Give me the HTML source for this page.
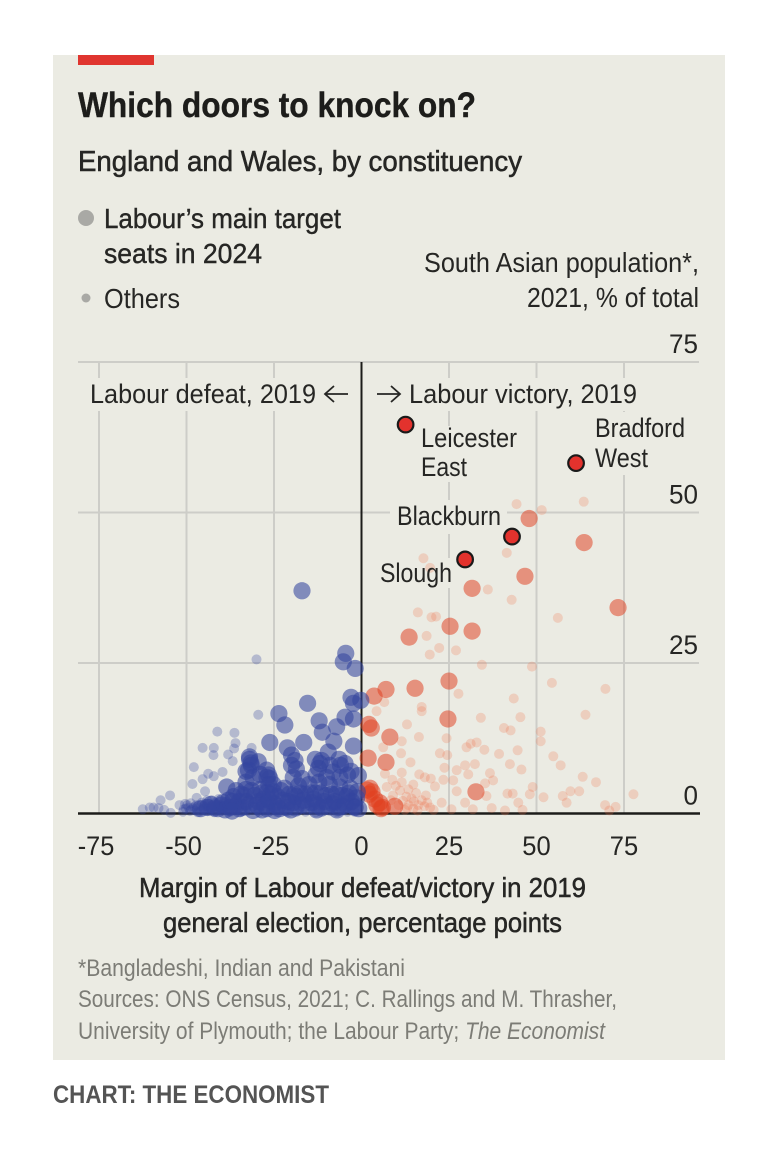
<!DOCTYPE html>
<html lang="en">
<head>
<meta charset="utf-8">
<title>Which doors to knock on?</title>
<style>
html,body{margin:0;padding:0;background:#fff;}
svg{display:block;filter:blur(0.35px);}
text{font-family:"Liberation Sans",sans-serif;fill:#262624;}
</style>
</head>
<body>
<svg id="chart" xmlns="http://www.w3.org/2000/svg" width="782" height="1154" viewBox="0 0 782 1154">
  <rect x="53" y="55" width="672" height="1005" fill="#ebebe3"/>
  <rect x="78" y="55" width="76" height="10" fill="#e0352f"/>
  <text x="78" y="117" font-size="35" font-weight="bold" textLength="398" lengthAdjust="spacingAndGlyphs" stroke="#1d1d1b" stroke-width="0.4" style="fill:#1d1d1b">Which doors to knock on?</text>
  <text x="78" y="171" font-size="29" textLength="444" lengthAdjust="spacingAndGlyphs" stroke="#262624" stroke-width="0.55">England and Wales, by constituency</text>

  <circle cx="86" cy="218" r="8" fill="#a9a9a5"/>
  <text x="104" y="228" font-size="28" textLength="237" lengthAdjust="spacingAndGlyphs" stroke="#262624" stroke-width="0.4">Labour’s main target</text>
  <text x="104" y="263" font-size="28" textLength="158" lengthAdjust="spacingAndGlyphs" stroke="#262624" stroke-width="0.4">seats in 2024</text>
  <circle cx="86" cy="298" r="4.5" fill="#a9a9a5"/>
  <text x="104" y="308" font-size="28" textLength="76" lengthAdjust="spacingAndGlyphs">Others</text>

  <text x="424" y="272" font-size="28" textLength="275" lengthAdjust="spacingAndGlyphs">South Asian population*,</text>
  <text x="527" y="307" font-size="28" textLength="172" lengthAdjust="spacingAndGlyphs">2021, % of total</text>

  <g id="grid"></g>
  <g id="masks">
    <rect x="80" y="378" width="570" height="33" fill="#ebebe3"/>
    <rect x="418" y="426" width="102" height="56" fill="#ebebe3"/>
    <rect x="592" y="412" width="96" height="63" fill="#ebebe3"/>
    <rect x="390" y="500" width="117" height="34" fill="#ebebe3"/>
    <rect x="377" y="558" width="78" height="30" fill="#ebebe3"/>
  </g>
  <g id="axes"></g>
  <g id="redOthersLayer"></g>
  <g id="redTargetsLayer"></g>
  <g id="blueOthersLayer"></g>
  <g id="blueTargetsLayer"></g>
  <g id="highlightLayer"></g>
  <g id="tickLayer"></g>

  <text x="90" y="403" font-size="27" textLength="226" lengthAdjust="spacingAndGlyphs">Labour defeat, 2019</text>
  <path d="M348 394H325M334 386L325 394L334 402" fill="none" stroke="#262624" stroke-width="1.8"/>
  <path d="M377 394H400M391 386L400 394L391 402" fill="none" stroke="#262624" stroke-width="1.8"/>
  <text x="409" y="403" font-size="27" textLength="228" lengthAdjust="spacingAndGlyphs">Labour victory, 2019</text>
  <text x="421" y="447" font-size="27" textLength="96" lengthAdjust="spacingAndGlyphs">Leicester</text>
  <text x="421" y="476" font-size="27" textLength="46" lengthAdjust="spacingAndGlyphs">East</text>
  <text x="595" y="437" font-size="27" textLength="90" lengthAdjust="spacingAndGlyphs">Bradford</text>
  <text x="595" y="467" font-size="27" textLength="53" lengthAdjust="spacingAndGlyphs">West</text>
  <text x="397" y="525" font-size="27" textLength="104" lengthAdjust="spacingAndGlyphs">Blackburn</text>
  <text x="380" y="582" font-size="27" textLength="72" lengthAdjust="spacingAndGlyphs">Slough</text>

  <text x="139" y="897" font-size="28" textLength="447" lengthAdjust="spacingAndGlyphs" stroke="#262624" stroke-width="0.5">Margin of Labour defeat/victory in 2019</text>
  <text x="163" y="932" font-size="28" textLength="399" lengthAdjust="spacingAndGlyphs" stroke="#262624" stroke-width="0.5">general election, percentage points</text>

  <text x="78" y="976" font-size="24" textLength="327" lengthAdjust="spacingAndGlyphs" style="fill:#7c7c76">*Bangladeshi, Indian and Pakistani</text>
  <text x="78" y="1007" font-size="24" textLength="539" lengthAdjust="spacingAndGlyphs" style="fill:#7c7c76">Sources: ONS Census, 2021; C. Rallings and M. Thrasher,</text>
  <text x="78" y="1039" font-size="24" textLength="527" lengthAdjust="spacingAndGlyphs" style="fill:#7c7c76">University of Plymouth; the Labour Party; <tspan font-style="italic">The Economist</tspan></text>
  <text x="53" y="1103" font-size="25" font-weight="bold" textLength="276" lengthAdjust="spacingAndGlyphs" style="fill:#545454">CHART: THE ECONOMIST</text>
</svg>
<script>
var xTicks = [-75, -50, -25, 0, 25, 50, 75];
var yTicks = [0, 25, 50, 75];
var xTickLabels = ["-75", "-50", "-25", "0", "25", "50", "75"];
var yTickLabels = ["0", "25", "50", "75"];

var highlightedSeats = [[12.6, 64.6], [61.3, 58.2], [43, 46], [29.6, 42.2]];

var redTargets = [[47.9,49],[63.6,45],[46.7,39.4],[31.6,37.4],[73.3,34.2],[25.3,31.1],[31.6,30.3],[13.6,29.3],
[25,22],[15.3,20.8],[7,20.6],[3.6,19.5],[24.7,15.7],[2.1,14.8],[2.8,14.2],[8.1,12.7],[1.9,9.2],[7,8.5],
[32.7,3.6],[1.6,3.9],[2.4,4.2],[3,3.6],[2.2,3.2],[3.8,2.4],[5.2,1.8],[6,1],[9.5,1.2],[4.4,1.4],[5.6,0.8]];

var redOthers = [[16.1,33.4],[20,32.6],[21.3,32.7],[18.6,29.5],[22.2,27.5],[19.5,26.4],[27,27.1],[36.1,37.2],[42.9,35.5],
[56.1,32.5],[34.4,24.7],[48.7,24.4],[54.4,21.7],[69.7,20.7],[27.7,19.9],[43.5,19.1],[17.2,17.7],[17.2,17],[4.3,17],[6.5,18.5],
[34.1,15.9],[45.4,16],[64,16.4],[13,14.8],[40.7,14.2],[42.6,13.8],[16.4,12.7],[24.3,12.5],[11.5,12],[51.2,13.6],[51.2,12],
[32.9,11.8],[31.2,11.6],[30,11],[35.1,10.6],[44.6,10.5],[6.2,11],[11.3,10],[22.4,10],[24.5,9.7],[39.3,9.9],[54.8,9.5],[14,8.5],
[42.4,8.2],[56.9,8],[32.4,8.2],[29.6,8],[23.7,7.6],[27.2,7.2],[45.7,7.3],[6.7,6.6],[11.5,6.8],[36.7,6.7],[30.5,6.5],[16.5,6.5],
[18.1,6],[19.8,5.8],[23.4,5.6],[26.2,5.5],[37.6,5.5],[35.3,5],[63.2,6.1],[67,5.2],[11.5,5.2],[21,4.5],[7.2,4.4],[13.4,4],[48.9,4.4],
[59.7,3.7],[62.2,3.7],[27.2,3.7],[41.7,3.3],[43.2,3.3],[48.1,3.2],[57.5,2.9],[77.7,3.2],[52,2.7],[35.7,2.9],[18.4,3],[9,3],[14.3,2.5],
[17.2,2.2],[58.6,1.8],[22.9,1.8],[29.6,1.8],[44.8,1.8],[13.4,1.4],[19.6,1],[25.7,0.7],[37.2,0.9],[41,0.5],[46,0.6],[31.8,0.7],[69.6,1.4],
[72.6,1.1],[70.8,0.5],[14.8,0.8],[12.4,0.6],[44.3,51.4],[51.5,50.4],[63.5,51.8],[41.5,43.3],[17.7,42.4],[19.6,40.8],[11.8,2.1],[15.6,3.4],
[16.2,1.4],[18.8,1.8],[10.6,1.4],[8.4,2.2],[20.6,0.6],[12.8,2.8],[15,2],[13,0.9],[16,0.5],[11,3.8],[9.8,4.6],[14.8,4.8],[8.8,5.6],[18,1.2]];

var blueOthers = [[-30,25.6],[-29.5,16.4],[-41.2,13.6],[-36.3,13.4],[-45.4,10.9],[-42.2,10.9],[-42.3,9.7],[-36,11.7],[-36.4,10.8],
[-38.1,9.8],[-36.8,8.7],[-31.4,10.9],[-47.9,7.7],[-43.8,6.6],[-42.2,6.2],[-39.7,6.9],[-45.4,5.7],[-48.3,4.9],[-44.7,3.7],[-47.1,2.6],
[-54.7,3],[-57.4,2.2],[-62.5,0.7],[-60.5,1],[-59.4,1],[-58,0.9],[-56.4,0.6],[-54.5,0.1],[-52,1.4],[-50.2,0.8],[-48.8,1.7],[-46,1.3],
[-44.1,2.2],[-42.2,1.3],[-51,0.3],[-49,0.4],[-47.5,0.5],[-46.2,0.3],[-45.2,0.8],[-44,0.4],[-43,0.9],[-42,0.2],[-41.2,0.8],[-40.2,1.4],
[-39.4,0.5],[-38.4,1],[-37.5,0.3],[-36.6,1.6],[-35.4,0.7],[-34.6,0.2],[-33.4,1.1],[-32.6,0.4],[-31.4,1.8],[-30.4,0.6],[-29.2,0.2],
[-28.4,1.3],[-27.2,0.5],[-26.4,2],[-25.2,0.8],[-24.4,0.3],[-23.2,1.5],[-22.2,0.6],[-21,0.2],[-20.2,1.2],[-19,2.2],[-18.2,0.5],[-17.1,1.2],
[-16,0.3],[-15,1.7],[-14,0.7],[-13,0.2],[-12,1.4],[-11,0.6],[-10,2.1],[-9,0.4],[-8,1.2],[-7,0.2],[-6,1.6],[-5,0.7],[-4,0.3],[-3,1.1],
[-2,0.3],[-1.4,0.9],[-1.2,1.8],[-50.4,1.6],[-49.4,1],[-48.2,0.9],[-47.2,1.4],[-46.8,0.2],[-45.6,1.8],[-44.6,1.2],[-43.6,1.6],[-42.8,2.2],
[-41.8,1.8],[-40.8,2.4],[-39.8,0.9],[-38.8,1.9],[-50.8,0.7],[-49.8,1.4],[-48.6,0.6],[-47.8,1.1],[-46.6,1],[-45.8,0.5],[-44.8,1.6],[-43.8,0.8],
[-42.6,1.2],[-41.6,0.5],[-40.6,1.1],[-39.6,1.7],[-38.6,0.7]];

var blueTargets = [[-17,37],[-4.5,26.6],[-5.2,25.2],[-1.8,24.1],[-15.4,18.3],[-3,19.3],[-0.2,18.8],[-2.3,18.3],[-23.6,16.6],[-21.9,14.7],
[-12.1,15.4],[-4.7,16],[-2.3,15.7],[-7.1,14.4],[-11.2,13.5],[-7.9,12],[-26.2,11.8],[-16.5,11.8],[-2.3,11.2],[-21.2,10.9],[-9.5,10.2],
[-20,9.7],[-19,8.8],[-32,9.4],[-29.5,8.6],[-11.9,8.3],[-4.7,8.3],[-26.2,5.8],[-32.3,7.2],[-27.1,7.2],[-8.1,6.9],[-12.3,7.5],[-0.9,6.3],
[-38.5,4.4],[-19.5,6],[-6.2,6],[-33,5.2],[-31.6,8.4],[-13.2,9],[-11.4,8.8],[-6.4,9],[-18.6,7.4],[-26.6,6.4],[-25.2,4.8],[-36.6,2.8],
[-34.4,3.2],[-33,2],[-31.4,3.8],[-30,1.4],[-29,4],[-28,2.4],[-27,0.8],[-26,3.2],[-25,1.6],[-24,2.8],[-23.4,0.8],[-22,4.2],[-21,2],
[-20.2,0.6],[-19.2,3.2],[-18,4.6],[-17,1.4],[-16,3.2],[-15,4.8],[-14.2,1.8],[-13.2,3.4],[-12.2,5.2],[-11.4,0.9],[-10.2,3],[-9.2,4.8],
[-8.2,1.6],[-7.2,3.2],[-6.2,4.4],[-5.2,1.2],[-4.2,2.8],[-3.2,4.2],[-2.4,1.2],[-1.4,2.6],[-0.8,0.8],[-35,0.8],[-37.6,1],[-39.6,1.8],
[-31,0.5],[-28.4,0.6],[-24.8,0.5],[-18.8,0.9],[-12.8,0.6],[-7,0.6],
[-32,9],[-31.5,8],[-33,7],[-31,6],[-29,6.5],[-27,6],[-26.5,4.8],[-27,3.5],[-33,4],[-35,2],[-36,1.2],[-34,1],[-33.5,3],[-32,1.5],
[-30.5,3],[-29.5,2],[-28.5,3.4],[-27.6,1.4],[-26.4,2.2],[-25.2,3.6],[-24,1.2],[-23,3.8],[-22.4,2.2],[-21.6,1],[-20.6,3.2],[-19.6,1.8],
[-18.6,2.8],[-17.6,3.4],[-16.6,2.2],[-15.6,1.2],[-14.6,3.4],[-13.6,2.4],[-12.6,1.4],[-11.6,3.4],[-10.6,2],[-9.6,1.2],[-8.6,3.2],
[-7.6,2],[-6.6,1],[-5.6,3],[-4.6,1.6],[-3.6,3.4],[-2.8,2],[-1.8,1],[-1.2,3.6],[-40,1.4],[-41,0.8],[-38,2.2],[-37,0.4],[-20,8],
[-17,5.8],[-13,6.4],[-10,6],[-9,8],[-6,8],[-4,6.4],[-3,7],[-42,0.9],[-44,1],[-46,0.8],[-39,0.6],[-43,1.5],[-36.8,2],[-35.8,3.8]];

var plotLeft = 78;
var plotRight = 699;
var plotTop = 362;
var plotBottom = 813.5;
var svgNs = "http://www.w3.org/2000/svg";

function xScale(v) { return 361.5 + v * 3.5; }
function yScale(v) { return 813.5 - v * 6.02; }

function drawLine(parent, x1, y1, x2, y2, color, width) {
  var l = document.createElementNS(svgNs, "line");
  l.setAttribute("x1", x1);
  l.setAttribute("y1", y1);
  l.setAttribute("x2", x2);
  l.setAttribute("y2", y2);
  l.setAttribute("stroke", color);
  l.setAttribute("stroke-width", width);
  parent.appendChild(l);
  return l;
}

function drawDots(layerId, points, radius, color, opacity, name) {
  var layer = document.getElementById(layerId);
  points.forEach(function (p) {
    var c = document.createElementNS(svgNs, "circle");
    c.setAttribute("cx", xScale(p[0]));
    c.setAttribute("cy", yScale(p[1]));
    c.setAttribute("r", radius);
    c.setAttribute("fill", color);
    c.setAttribute("fill-opacity", opacity);
    
    
    layer.appendChild(c);
  });
}

var grid = document.getElementById("grid");
xTicks.forEach(function (t) {
  if (t === 0) { return; }
  var line = drawLine(grid, xScale(t), plotTop, xScale(t), plotBottom, "#cdcdc8", 2);
  
  
});
yTicks.forEach(function (t) {
  if (t === 0) { return; }
  var line = drawLine(grid, plotLeft, yScale(t), plotRight, yScale(t), "#cdcdc8", 2);
  
  
});

var axes = document.getElementById("axes");
var xAxisLine = drawLine(axes, plotLeft, plotBottom, plotRight + 1, plotBottom, "#1c1c1a", 2.4);


var zeroLine = drawLine(axes, xScale(0), plotTop, xScale(0), plotBottom, "#1c1c1a", 2);



drawDots("redOthersLayer", redOthers, 5, "#f0704a", 0.24, "other-seat-victory");
drawDots("redTargetsLayer", redTargets, 8.6, "#e0401f", 0.52, "target-seat-victory");
drawDots("blueOthersLayer", blueOthers, 5, "#34459f", 0.3, "other-seat-defeat");
drawDots("blueTargetsLayer", blueTargets, 8.6, "#34459f", 0.58, "target-seat-defeat");

var hl = document.getElementById("highlightLayer");
highlightedSeats.forEach(function (p) {
  var c = document.createElementNS(svgNs, "circle");
  c.setAttribute("cx", xScale(p[0]));
  c.setAttribute("cy", yScale(p[1]));
  c.setAttribute("r", 7.8);
  c.setAttribute("fill", "#e3322d");
  c.setAttribute("stroke", "#1a1a1a");
  c.setAttribute("stroke-width", 2.2);
  
  
  hl.appendChild(c);
});

var tickLayer = document.getElementById("tickLayer");
xTickLabels.forEach(function (label, i) {
  var t = document.createElementNS(svgNs, "text");
  var wide = label.length * 14.2 - (label.charAt(0) === "-" ? 6 : 0);
  t.setAttribute("x", xScale(xTicks[i]) - wide / 2 - (label.charAt(0) === "-" ? 3 : 0));
  t.setAttribute("y", 855);
  t.setAttribute("font-size", 27);
  t.setAttribute("textLength", wide);
  t.setAttribute("lengthAdjust", "spacingAndGlyphs");
  t.textContent = label;
  
  
  tickLayer.appendChild(t);
});
yTickLabels.forEach(function (label, i) {
  var t = document.createElementNS(svgNs, "text");
  var wide = label.length * 14.5;
  t.setAttribute("x", 698 - wide);
  t.setAttribute("y", yScale(yTicks[i]) - 9);
  t.setAttribute("font-size", 27);
  t.setAttribute("textLength", wide);
  t.setAttribute("lengthAdjust", "spacingAndGlyphs");
  t.textContent = label;
  
  
  tickLayer.appendChild(t);
});
</script>
</body>
</html>
